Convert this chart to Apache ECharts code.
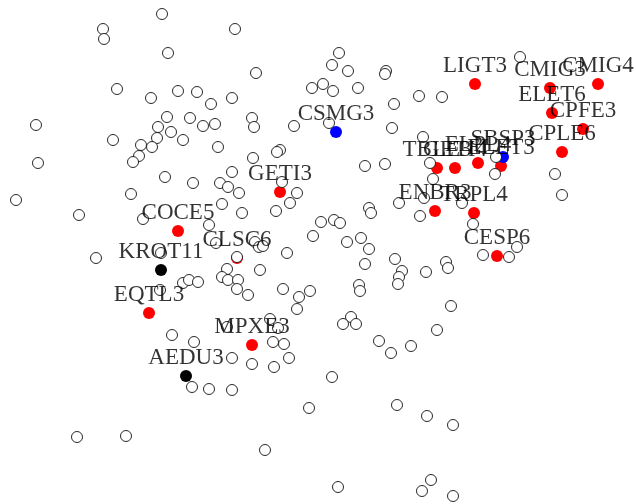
<!DOCTYPE html>
<html>
<head>
<meta charset="utf-8">
<script src="https://cdn.jsdelivr.net/npm/echarts@6/dist/echarts.min.js"></script>
<style>
html,body{margin:0;padding:0;background:#fff;}
#chart{width:636px;height:504px;}
</style>
</head>
<body>
<div id="chart"></div>
<script>
// Unlabelled stocks (open circles): x and y positions on the map
var openX = [162,103,104,235,168,256,117,151,178,197,211,232,36,113,38,167,190,158,171,157,203,215,183,141,152,139,133,218,252,254,294,280,277,253,232,165,193,220,228,239,282,297,290,276,222,242,131,16,79,143,209,321,313,216,255,259,263,287,96,161,237,260,227,222,228,238,237,248,183,189,198,160,283,310,299,297,227,270,278,172,194,273,284,232,252,274,289,192,209,232,309,77,126,265,
339,332,348,386,385,312,323,333,358,419,442,394,329,392,423,520,365,385,430,496,495,433,555,562,399,424,462,420,473,369,371,334,340,347,361,369,483,509,517,395,402,399,398,426,446,448,365,359,360,451,351,343,356,437,379,391,411,332,397,427,453,338,431,422,453];
var openY = [14,29,39,29,53,73,89,98,91,92,104,98,125,140,163,117,118,127,132,138,126,124,140,145,147,156,162,147,118,127,126,150,152,158,172,177,183,183,187,193,182,193,203,211,204,213,194,200,215,219,225,222,236,243,242,247,246,253,258,253,257,270,269,277,280,280,289,295,283,280,282,290,289,291,297,309,327,319,328,335,342,342,344,358,364,367,358,387,389,390,408,437,436,450,
53,65,71,71,74,88,84,91,88,96,97,104,123,128,137,57,166,164,163,157,174,179,174,195,203,198,203,216,224,208,213,220,223,242,238,249,255,257,247,259,271,277,284,272,262,268,264,285,291,306,317,324,324,330,341,353,346,377,405,416,425,487,480,491,496];

// Highlighted stocks
var redNames = ["LIGT3","CMIG3","CMIG4","ELET6","CPFE3","CPLE6","TBLE3","GETI4","ELPL4","ELET3","ENBR3","TRPL4","CESP6","GETI3","COCE5","CLSC6","EQTL3","MPXE3"];
var redX = [475,550,598,552,583,562,437,455,478,501,435,474,497,280,178,237,149,252];
var redY = [84,88,84,113,129,152,168,168,163,166,211,213,256,192,231,258,313,345];

var blueNames = ["SBSP3","CSMG3"];
var blueX = [503,336];
var blueY = [157,132];

var blackNames = ["KROT11","AEDU3"];
var blackX = [161,186];
var blackY = [270,376];

function pts(xs, ys, names) {
  return xs.map(function (x, i) {
    var d = { value: [x, ys[i]] };
    if (names) d.name = names[i];
    return d;
  });
}

var allNames = redNames.concat(blueNames, blackNames);
var allX = redX.concat(blueX, blackX);
var allY = redY.concat(blueY, blackY);

var chart = echarts.init(document.getElementById('chart'));
chart.setOption({
  animation: false,
  backgroundColor: '#fff',
  grid: { left: 0, right: 0, top: 0, bottom: 0 },
  xAxis: { type: 'value', min: 0, max: 636, show: false },
  yAxis: { type: 'value', min: 0, max: 504, inverse: true, show: false },
  series: [
    { type: 'scatter', z: 1, symbolSize: 12, data: pts(redX, redY, redNames),
      itemStyle: { color: '#ff0000', opacity: 1 } },
    { type: 'scatter', z: 1, symbolSize: 12, data: pts(blueX, blueY, blueNames),
      itemStyle: { color: '#0000ff', opacity: 1 } },
    { type: 'scatter', z: 1, symbolSize: 12, data: pts(blackX, blackY, blackNames),
      itemStyle: { color: '#000000', opacity: 1 } },
    { type: 'scatter', z: 2, symbolSize: 11, data: pts(openX, openY),
      itemStyle: { color: '#ffffff', borderColor: '#111', borderWidth: 0.9, opacity: 1 } },
    { type: 'scatter', z: 3, symbolSize: 12, data: pts(allX, allY, allNames),
      itemStyle: { color: 'rgba(0,0,0,0)' },
      label: { show: true, position: 'top', distance: 1, formatter: '{b}',
        color: '#000', fontFamily: 'Liberation Serif', fontSize: 23 } }
  ]
});
</script>
</body>
</html>
